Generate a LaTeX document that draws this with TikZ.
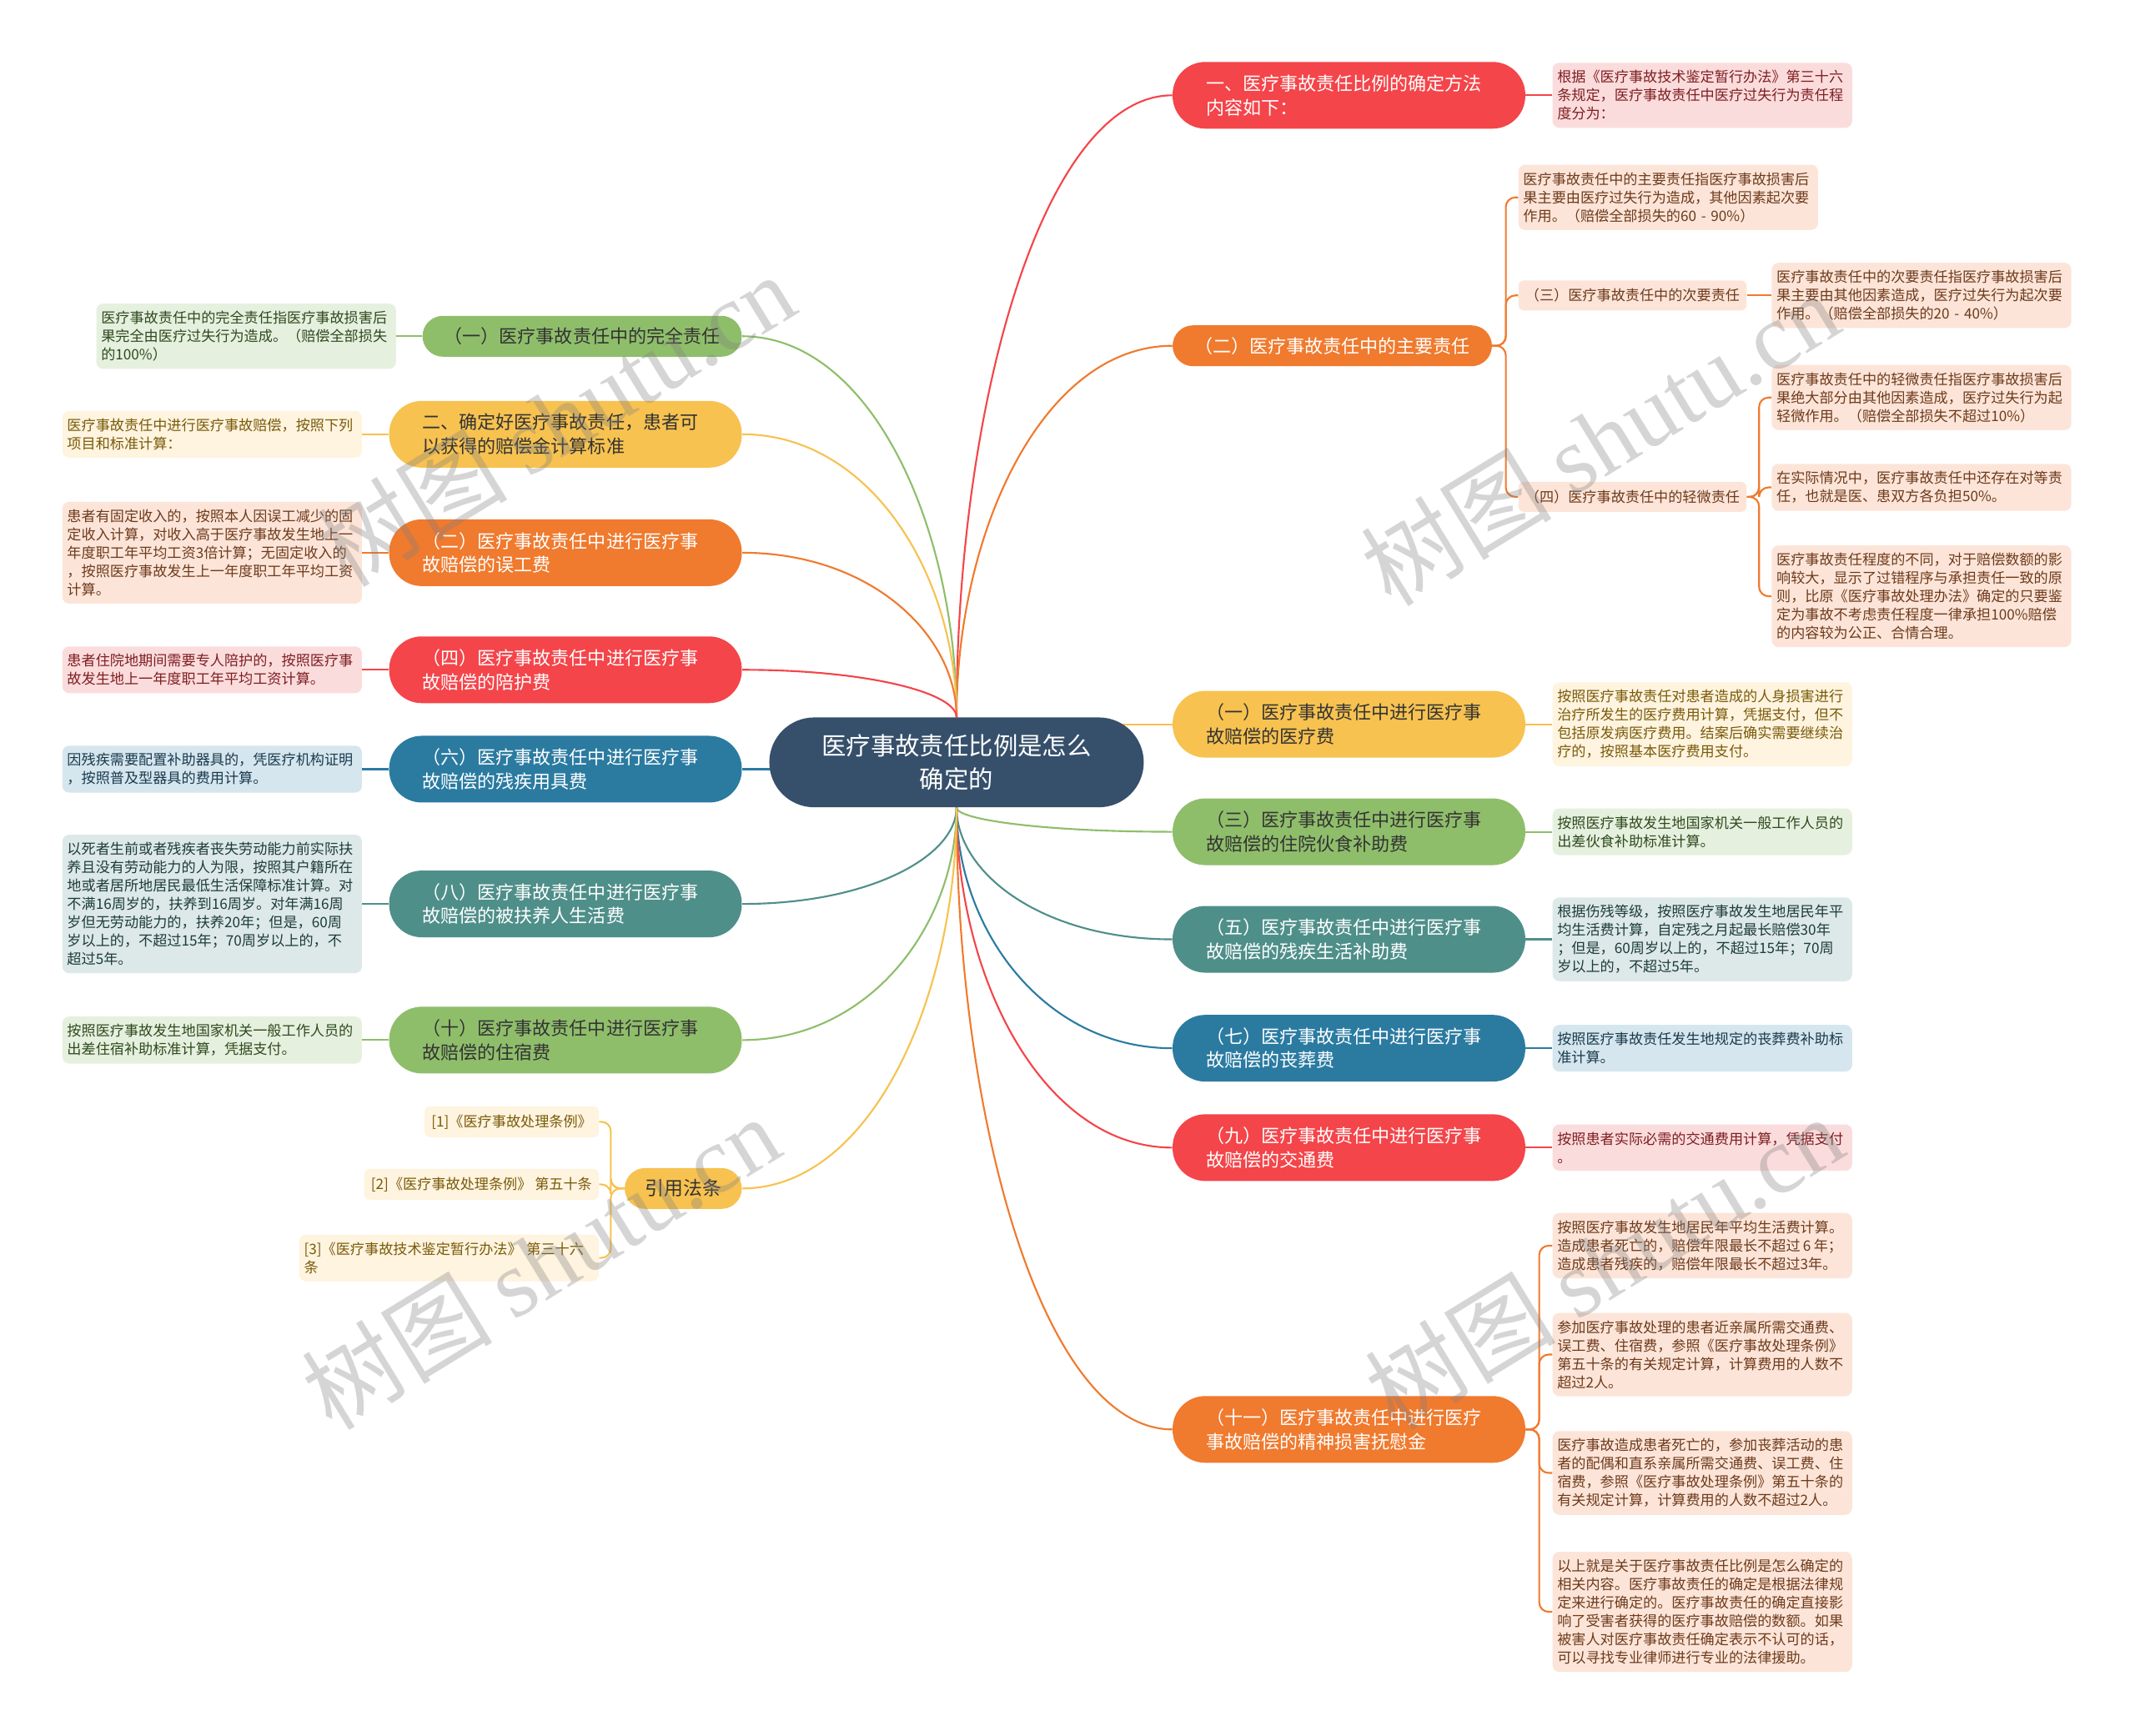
\documentclass[tikz,border=0pt]{standalone}
\usepackage{fontspec}
\setmainfont{Noto Sans CJK SC}
\newfontfamily\wmserif{Liberation Serif}
\usetikzlibrary{calc,backgrounds}

\definecolor{cred}{HTML}{F4454A}
\definecolor{corange}{HTML}{F07A2E}
\definecolor{cyellow}{HTML}{F7C250}
\definecolor{cgreen}{HTML}{8FBE6B}
\definecolor{cteal}{HTML}{4F8F8A}
\definecolor{cblue}{HTML}{2B7BA1}
\definecolor{ccenter}{HTML}{36506B}
\definecolor{lpink}{HTML}{FBDCDC}
\definecolor{tpink}{HTML}{7E1E22}
\definecolor{lpeach}{HTML}{FCE5D8}
\definecolor{tpeach}{HTML}{6E3A1C}
\definecolor{lyellow}{HTML}{FEF4DF}
\definecolor{tyellow}{HTML}{7A5A0A}
\definecolor{lgreen}{HTML}{E6F0DF}
\definecolor{tgreen}{HTML}{2E4A1E}
\definecolor{lteal}{HTML}{DCE9E8}
\definecolor{tteal}{HTML}{1E3C3A}
\definecolor{lblue}{HTML}{D5E6EF}
\definecolor{tblue}{HTML}{1B3A4C}
\definecolor{tdark}{HTML}{333333}

\tikzset{
  brtwo/.style={rounded corners=24pt, text width=210pt, inner xsep=24.5pt, inner ysep=0pt, minimum height=49pt, align=left, font=\fontsize{13.5}{17.5}\selectfont},
  brone/.style={rounded corners=15pt, inner xsep=16pt, inner ysep=0pt, minimum height=30pt, font=\fontsize{13.5}{17.5}\selectfont},
  leafbox/.style={rounded corners=5pt, text width=213pt, inner xsep=3.5pt, inner ysep=5.5pt, align=left, font=\fontsize{10.5}{13.5}\selectfont},
  tagbox/.style={rounded corners=4pt, inner xsep=5pt, inner ysep=6pt, align=left, font=\fontsize{10.5}{13.5}\selectfont},
  conn/.style={line width=1.3pt},
  curv/.style={to path={.. controls ($(\tikztostart)!0.5!(\tikztostart |- \tikztotarget)$) and ($(\tikztotarget)!0.6!(\tikztostart |- \tikztotarget)$) .. (\tikztotarget)}},
  wm/.style={text=black!50, opacity=0.33, font=\fontsize{70}{70}\selectfont, rotate=31.5, inner sep=0pt},
}

\begin{document}
\begin{tikzpicture}[x=1pt,y=-1pt]
\useasboundingbox (0,0) rectangle (1568,1275);

% ---------- center ----------
\node[fill=ccenter, text=white, rounded corners=33pt, minimum width=275pt, minimum height=66pt, inner sep=0pt, align=center, font=\fontsize{18}{24}\selectfont] (c) at (702.5,560) {医疗事故责任比例是怎么\\确定的};

% ---------- right branches ----------
\node[brtwo, fill=cred, text=white, anchor=west] (r1) at (861,70) {一、医疗事故责任比例的确定方法\\内容如下：};
\node[brone, fill=corange, text=white, anchor=west] (r2) at (861,254) {（二）医疗事故责任中的主要责任};
\node[brtwo, fill=cyellow, text=tdark, anchor=west] (r3) at (861,532) {（一）医疗事故责任中进行医疗事\\故赔偿的医疗费};
\node[brtwo, fill=cgreen, text=tdark, anchor=west] (r4) at (861,611) {（三）医疗事故责任中进行医疗事\\故赔偿的住院伙食补助费};
\node[brtwo, fill=cteal, text=white, anchor=west] (r5) at (861,690) {（五）医疗事故责任中进行医疗事\\故赔偿的残疾生活补助费};
\node[brtwo, fill=cblue, text=white, anchor=west] (r6) at (861,770) {（七）医疗事故责任中进行医疗事\\故赔偿的丧葬费};
\node[brtwo, fill=cred, text=white, anchor=west] (r7) at (861,843) {（九）医疗事故责任中进行医疗事\\故赔偿的交通费};
\node[brtwo, fill=corange, text=white, anchor=west] (r8) at (861,1050) {（十一）医疗事故责任中进行医疗\\事故赔偿的精神损害抚慰金};

% ---------- left branches ----------
\node[brone, fill=cgreen, text=tdark, anchor=east] (lb1) at (545,247) {（一）医疗事故责任中的完全责任};
\node[brtwo, fill=cyellow, text=tdark, anchor=east] (lb2) at (545,319) {二、确定好医疗事故责任，患者可\\以获得的赔偿金计算标准};
\node[brtwo, fill=corange, text=white, anchor=east] (lb3) at (545,406) {（二）医疗事故责任中进行医疗事\\故赔偿的误工费};
\node[brtwo, fill=cred, text=white, anchor=east] (lb4) at (545,492) {（四）医疗事故责任中进行医疗事\\故赔偿的陪护费};
\node[brtwo, fill=cblue, text=white, anchor=east] (lb5) at (545,565) {（六）医疗事故责任中进行医疗事\\故赔偿的残疾用具费};
\node[brtwo, fill=cteal, text=white, anchor=east] (lb6) at (545,664) {（八）医疗事故责任中进行医疗事\\故赔偿的被扶养人生活费};
\node[brtwo, fill=cgreen, text=tdark, anchor=east] (lb7) at (545,764) {（十）医疗事故责任中进行医疗事\\故赔偿的住宿费};
\node[brone, fill=cyellow, text=tdark, anchor=east, font=\fontsize{14}{17}\selectfont, inner xsep=15pt] (lb8) at (545,873) {引用法条};

% ---------- right leaves ----------
\node[leafbox, fill=lpink, text=tpink, anchor=west] (lr1) at (1140,70) {根据《医疗事故技术鉴定暂行办法》第三十六\\条规定，医疗事故责任中医疗过失行为责任程\\度分为：};

\node[leafbox, fill=lpeach, text=tpeach, anchor=west] (r2a) at (1115,145) {医疗事故责任中的主要责任指医疗事故损害后\\果主要由医疗过失行为造成，其他因素起次要\\作用。（赔偿全部损失的60 - 90\%）};
\node[tagbox, fill=lpeach, text=tpeach, anchor=west] (s3) at (1115,217) {（三）医疗事故责任中的次要责任};
\node[tagbox, fill=lpeach, text=tpeach, anchor=west] (s4) at (1115,365) {（四）医疗事故责任中的轻微责任};
\node[leafbox, fill=lpeach, text=tpeach, anchor=west] (s3l) at (1301,217) {医疗事故责任中的次要责任指医疗事故损害后\\果主要由其他因素造成，医疗过失行为起次要\\作用。（赔偿全部损失的20 - 40\%）};
\node[leafbox, fill=lpeach, text=tpeach, anchor=west] (s4a) at (1301,292) {医疗事故责任中的轻微责任指医疗事故损害后\\果绝大部分由其他因素造成，医疗过失行为起\\轻微作用。（赔偿全部损失不超过10\%）};
\node[leafbox, fill=lpeach, text=tpeach, anchor=west] (s4b) at (1301,358) {在实际情况中，医疗事故责任中还存在对等责\\任，也就是医、患双方各负担50\%。};
\node[leafbox, fill=lpeach, text=tpeach, anchor=west] (s4c) at (1301,438) {医疗事故责任程度的不同，对于赔偿数额的影\\响较大，显示了过错程序与承担责任一致的原\\则，比原《医疗事故处理办法》确定的只要鉴\\定为事故不考虑责任程度一律承担100\%赔偿\\的内容较为公正、合情合理。};

\node[leafbox, fill=lyellow, text=tyellow, anchor=west] (lr3) at (1140,532) {按照医疗事故责任对患者造成的人身损害进行\\治疗所发生的医疗费用计算，凭据支付，但不\\包括原发病医疗费用。结案后确实需要继续治\\疗的，按照基本医疗费用支付。};
\node[leafbox, fill=lgreen, text=tgreen, anchor=west] (lr4) at (1140,611) {按照医疗事故发生地国家机关一般工作人员的\\出差伙食补助标准计算。};
\node[leafbox, fill=lteal, text=tteal, anchor=west] (lr5) at (1140,690) {根据伤残等级，按照医疗事故发生地居民年平\\均生活费计算，自定残之月起最长赔偿30年\\；但是，60周岁以上的，不超过15年；70周\\岁以上的，不超过5年。};
\node[leafbox, fill=lblue, text=tblue, anchor=west] (lr6) at (1140,770) {按照医疗事故责任发生地规定的丧葬费补助标\\准计算。};
\node[leafbox, fill=lpink, text=tpink, anchor=west] (lr7) at (1140,843) {按照患者实际必需的交通费用计算，凭据支付\\。};

\node[leafbox, fill=lpeach, text=tpeach, anchor=west] (lr8a) at (1140,915) {按照医疗事故发生地居民年平均生活费计算。\\\mbox{造成患者死亡的，赔偿年限最长不超过\hspace{2pt}6\hspace{2pt}年；}\\造成患者残疾的，赔偿年限最长不超过3年。};
\node[leafbox, fill=lpeach, text=tpeach, anchor=west] (lr8b) at (1140,995) {参加医疗事故处理的患者近亲属所需交通费、\\误工费、住宿费，参照《医疗事故处理条例》\\第五十条的有关规定计算，计算费用的人数不\\超过2人。};
\node[leafbox, fill=lpeach, text=tpeach, anchor=west] (lr8c) at (1140,1082) {医疗事故造成患者死亡的，参加丧葬活动的患\\者的配偶和直系亲属所需交通费、误工费、住\\宿费，参照《医疗事故处理条例》第五十条的\\有关规定计算，计算费用的人数不超过2人。};
\node[leafbox, fill=lpeach, text=tpeach, anchor=west] (lr8d) at (1140,1184) {以上就是关于医疗事故责任比例是怎么确定的\\相关内容。医疗事故责任的确定是根据法律规\\定来进行确定的。医疗事故责任的确定直接影\\响了受害者获得的医疗事故赔偿的数额。如果\\被害人对医疗事故责任确定表示不认可的话，\\可以寻找专业律师进行专业的法律援助。};

% ---------- left leaves ----------
\node[leafbox, fill=lgreen, text=tgreen, anchor=east] (ll1) at (291,247) {医疗事故责任中的完全责任指医疗事故损害后\\果完全由医疗过失行为造成。（赔偿全部损失\\的100\%）};
\node[leafbox, fill=lyellow, text=tyellow, anchor=east] (ll2) at (266,319) {医疗事故责任中进行医疗事故赔偿，按照下列\\项目和标准计算：};
\node[leafbox, fill=lpeach, text=tpeach, anchor=east] (ll3) at (266,406) {患者有固定收入的，按照本人因误工减少的固\\定收入计算，对收入高于医疗事故发生地上一\\年度职工年平均工资3倍计算；无固定收入的\\，按照医疗事故发生上一年度职工年平均工资\\计算。};
\node[leafbox, fill=lpink, text=tpink, anchor=east] (ll4) at (266,492) {患者住院地期间需要专人陪护的，按照医疗事\\故发生地上一年度职工年平均工资计算。};
\node[leafbox, fill=lblue, text=tblue, anchor=east] (ll5) at (266,565) {因残疾需要配置补助器具的，凭医疗机构证明\\，按照普及型器具的费用计算。};
\node[leafbox, fill=lteal, text=tteal, anchor=east] (ll6) at (266,664) {以死者生前或者残疾者丧失劳动能力前实际扶\\养且没有劳动能力的人为限，按照其户籍所在\\地或者居所地居民最低生活保障标准计算。对\\不满16周岁的，扶养到16周岁。对年满16周\\岁但无劳动能力的，扶养20年；但是，60周\\岁以上的，不超过15年；70周岁以上的，不\\超过5年。};
\node[leafbox, fill=lgreen, text=tgreen, anchor=east] (ll7) at (266,764) {按照医疗事故发生地国家机关一般工作人员的\\出差住宿补助标准计算，凭据支付。};

\node[tagbox, fill=lyellow, text=tyellow, anchor=east] (c1) at (440,824) {[1]《医疗事故处理条例》};
\node[tagbox, fill=lyellow, text=tyellow, anchor=east] (c2) at (440,870) {[2]《医疗事故处理条例》 第五十条};
\node[leafbox, fill=lyellow, text=tyellow, anchor=east] (c3) at (440,924) {[3]《医疗事故技术鉴定暂行办法》 第三十六\\条};

% ---------- connectors ----------
\begin{scope}[on background layer]
\fill[white] (0,0) rectangle (1568,1275);
% center to branches (top)
\draw[conn, cred] (c.north) to[curv] (r1.west);
\draw[conn, corange] (c.north) to[curv] (r2.west);
\draw[conn, cgreen] (c.north) to[curv] (lb1.east);
\draw[conn, cyellow] (c.north) to[curv] (lb2.east);
\draw[conn, corange] (c.north) to[curv] (lb3.east);
\draw[conn, cred] (c.north) to[curv] (lb4.east);
% straight
\draw[conn, cyellow] (c.center |- r3.west) -- (r3.west);
\draw[conn, cblue] (c.center |- lb5.east) -- (lb5.east);
% bottom
\draw[conn, cgreen] (c.south) to[curv] (r4.west);
\draw[conn, cteal] (c.south) to[curv] (r5.west);
\draw[conn, cblue] (c.south) to[curv] (r6.west);
\draw[conn, cred] (c.south) to[curv] (r7.west);
\draw[conn, corange] (c.south) to[curv] (r8.west);
\draw[conn, cteal] (c.south) to[curv] (lb6.east);
\draw[conn, cgreen] (c.south) to[curv] (lb7.east);
\draw[conn, cyellow] (c.south) to[curv] (lb8.east);

% branch to leaves (right)
\draw[conn, cred] (r1.east) -- (lr1.west);
\draw[conn, cyellow] (r3.east) -- (lr3.west);
\draw[conn, cgreen] (r4.east) -- (lr4.west);
\draw[conn, cteal] (r5.east) -- (lr5.west);
\draw[conn, cblue] (r6.east) -- (lr6.west);
\draw[conn, cred] (r7.east) -- (lr7.west);
\draw[conn, corange, rounded corners=7pt] (r2.east) -- ++(10,0) |- (r2a.west);
\draw[conn, corange, rounded corners=7pt] (r2.east) -- ++(10,0) |- (s3.west);
\draw[conn, corange, rounded corners=7pt] (r2.east) -- ++(10,0) |- (s4.west);
\draw[conn, corange] (s3.east) -- (s3l.west);
\draw[conn, corange, rounded corners=7pt] (s4.east) -- ++(9,0) |- (s4a.west);
\draw[conn, corange, rounded corners=7pt] (s4.east) -- ++(9,0) |- (s4b.west);
\draw[conn, corange, rounded corners=7pt] (s4.east) -- ++(9,0) |- (s4c.west);
\draw[conn, corange, rounded corners=7pt] (r8.east) -- ++(10,0) |- (lr8a.west);
\draw[conn, corange, rounded corners=7pt] (r8.east) -- ++(10,0) |- (lr8b.west);
\draw[conn, corange, rounded corners=7pt] (r8.east) -- ++(10,0) |- (lr8c.west);
\draw[conn, corange, rounded corners=7pt] (r8.east) -- ++(10,0) |- (lr8d.west);

% branch to leaves (left)
\draw[conn, cgreen] (lb1.west) -- (ll1.east);
\draw[conn, cyellow] (lb2.west) -- (ll2.east);
\draw[conn, corange] (lb3.west) -- (ll3.east);
\draw[conn, cred] (lb4.west) -- (ll4.east);
\draw[conn, cblue] (lb5.west) -- (ll5.east);
\draw[conn, cteal] (lb6.west) -- (ll6.east);
\draw[conn, cgreen] (lb7.west) -- (ll7.east);
\draw[conn, cyellow, rounded corners=7pt] (lb8.west) -- ++(-10,0) |- (c1.east);
\draw[conn, cyellow, rounded corners=7pt] (lb8.west) -- ++(-10,0) |- (c2.east);
\draw[conn, cyellow, rounded corners=7pt] (lb8.west) -- ++(-10,0) |- (c3.east);
\end{scope}

% ---------- watermarks ----------
\node[wm] (w1) at (408,308) {树图 {\wmserif shutu.cn}};
\node[wm] (w2) at (1175,322) {树图 {\wmserif shutu.cn}};
\node[wm] (w3) at (397,927) {树图 {\wmserif shutu.cn}};
\node[wm] (w4) at (1178,927) {树图 {\wmserif shutu.cn}};
\end{tikzpicture}
\end{document}
